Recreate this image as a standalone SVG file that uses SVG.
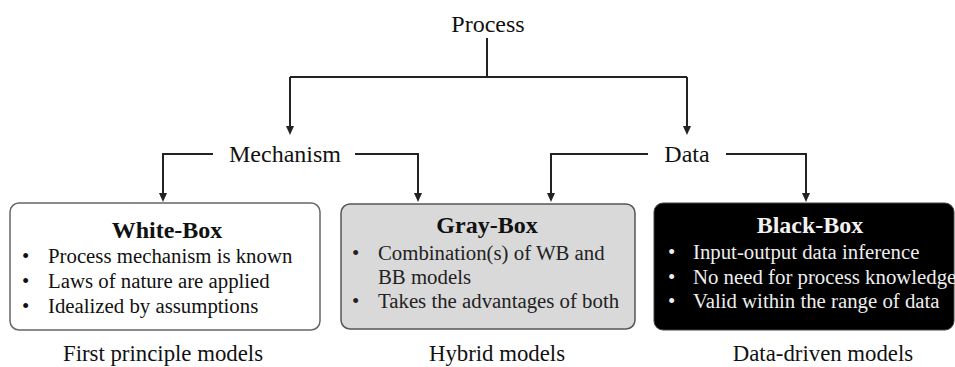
<svg xmlns="http://www.w3.org/2000/svg" width="955" height="367" viewBox="0 0 955 367">
<style>
text{font-family:'Liberation Serif','DejaVu Serif',serif;}
.lvl{font-size:24px;fill:#111;text-anchor:middle;}
.ttl{font-size:24px;font-weight:bold;text-anchor:middle;}
.bul{font-size:20.8px;}
.cap{font-size:22.8px;fill:#111;text-anchor:middle;}
.ln{fill:none;stroke:#222;stroke-width:2;}
.ah{fill:#222;}
</style>
<rect width="955" height="367" fill="#ffffff"/>
<g id="connectors">
<path class="ln" d="M487,38 V77"/>
<path class="ln" d="M290,77 H687"/>
<path class="ln" d="M290,77 V126"/>
<path class="ah" d="M286,126 L294,126 L290,135 Z"/>
<path class="ln" d="M687,77 V126"/>
<path class="ah" d="M683,126 L691,126 L687,135 Z"/>
<path class="ln" d="M213,154 H163 V193"/>
<path class="ah" d="M159,193 L167,193 L163,202 Z"/>
<path class="ln" d="M355,154 H418 V193"/>
<path class="ah" d="M414,193 L422,193 L418,202 Z"/>
<path class="ln" d="M648,154 H551 V193"/>
<path class="ah" d="M547,193 L555,193 L551,202 Z"/>
<path class="ln" d="M726,154 H806 V193"/>
<path class="ah" d="M802,193 L810,193 L806,202 Z"/>
</g>
<g id="process"><text class="lvl" x="488" y="32" font-family="Liberation Serif, serif">Process</text></g>
<g id="mechanism"><text class="lvl" x="285" y="162">Mechanism</text></g>
<g id="data"><text class="lvl" x="687" y="162">Data</text></g>
<g id="white-box">
<rect x="10" y="203" width="310" height="127" rx="9" fill="#ffffff" stroke="#666" stroke-width="1.5"/>
<text class="ttl" x="167" y="238" fill="#111">White-Box</text>
<g class="bul" fill="#111">
<text x="22" y="263">•</text><text x="48" y="263">Process mechanism is known</text>
<text x="22" y="288">•</text><text x="48" y="288">Laws of nature are applied</text>
<text x="22" y="313">•</text><text x="48" y="313">Idealized by assumptions</text>
</g>
</g>
<g id="gray-box">
<rect x="341" y="204" width="294" height="125" rx="9" fill="#d9d9d9" stroke="#555" stroke-width="1.5"/>
<text class="ttl" x="487" y="233" fill="#111">Gray-Box</text>
<g class="bul" fill="#222">
<text x="352" y="260">•</text><text x="378" y="260">Combination(s) of WB and</text>
<text x="378" y="284">BB models</text>
<text x="352" y="308">•</text><text x="378" y="308">Takes the advantages of both</text>
</g>
</g>
<g id="black-box">
<rect x="654" y="203" width="300" height="127" rx="9" fill="#000000" stroke="#444" stroke-width="1"/>
<text class="ttl" x="810" y="233" fill="#f2f2f2">Black-Box</text>
<g class="bul" fill="#eeeeee">
<text x="668" y="259">•</text><text x="693" y="259">Input-output data inference</text>
<text x="668" y="284">•</text><text x="693" y="284">No need for process knowledge</text>
<text x="668" y="308">•</text><text x="693" y="308">Valid within the range of data</text>
</g>
</g>
<g id="captions">
<text class="cap" x="163" y="361">First principle models</text>
<text class="cap" x="497" y="361">Hybrid models</text>
<text class="cap" x="823" y="361">Data-driven models</text>
</g>
</svg>
